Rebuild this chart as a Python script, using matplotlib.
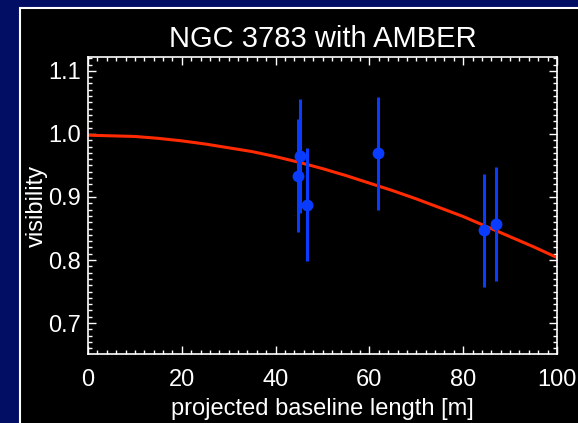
import matplotlib
matplotlib.use("Agg")
import matplotlib.pyplot as plt
from matplotlib.patches import Rectangle
from matplotlib.ticker import MultipleLocator

# data points (projected baseline [m], visibility, error)
baseline = [44.7, 45.1, 46.6, 61.9, 84.5, 87.0]
visibility = [0.934, 0.965, 0.888, 0.969, 0.847, 0.857]
vis_err = [0.090, 0.090, 0.090, 0.090, 0.090, 0.090]

# model curve
model_x = [0, 5, 10, 15, 20, 25, 30, 35, 40, 45, 50, 55, 60, 65, 70, 75, 80, 85, 90, 95, 100]
model_v = [0.998, 0.997, 0.996, 0.993, 0.989, 0.984, 0.978, 0.972, 0.964, 0.955,
           0.945, 0.934, 0.922, 0.910, 0.897, 0.883, 0.869, 0.853, 0.837, 0.821, 0.804]

title = "NGC 3783 with AMBER"
xlabel = "projected baseline length [m]"
ylabel = "visibility"

plt.rcParams['font.family'] = ['Liberation Sans', 'DejaVu Sans']

fig = plt.figure(figsize=(5.78, 4.23), dpi=100)
fig.patch.set_facecolor('#020e63')
fig.patches.append(Rectangle((20/578, -0.2), 1.2, 1 - 8/423 + 0.2,
                             transform=fig.transFigure, facecolor='black',
                             edgecolor='white', linewidth=1.5, zorder=-10))

ax = fig.add_axes([88/578, 69/423, (557-88)/578, (354-57)/423])
ax.set_zorder(5)
ax.set_facecolor('black')
ax.plot(model_x, model_v, color='#ff2a00', linewidth=2.2, zorder=2)
ax.errorbar(baseline, visibility, yerr=vis_err, fmt='o', color='#0a3cff',
            ecolor='#0a3cff', elinewidth=2.2, markersize=7.5, capsize=0, zorder=3)

ax.set_xlim(0, 100)
ax.set_ylim(0.651, 1.122)
ax.xaxis.set_major_locator(MultipleLocator(20))
ax.xaxis.set_minor_locator(MultipleLocator(2))
ax.yaxis.set_major_locator(MultipleLocator(0.1))
ax.yaxis.set_minor_locator(MultipleLocator(0.01))
ax.tick_params(which='both', direction='in', top=True, right=True, colors='white',
               labelcolor='white', labelsize=17)
ax.tick_params(which='major', length=6, width=1)
ax.tick_params(which='minor', length=3, width=1)
ax.tick_params(axis='x', which='major', pad=11)
ax.tick_params(axis='y', which='major', pad=5)
for s in ax.spines.values():
    s.set_color('white')
    s.set_linewidth(1.2)

ax.set_title(title, color='white', fontsize=21, pad=7.5)
ax.set_xlabel(xlabel, color='white', fontsize=17, labelpad=5)
ax.set_ylabel(ylabel, color='white', fontsize=17, labelpad=0)

fig.savefig('out.png', dpi=100, facecolor=fig.get_facecolor())
